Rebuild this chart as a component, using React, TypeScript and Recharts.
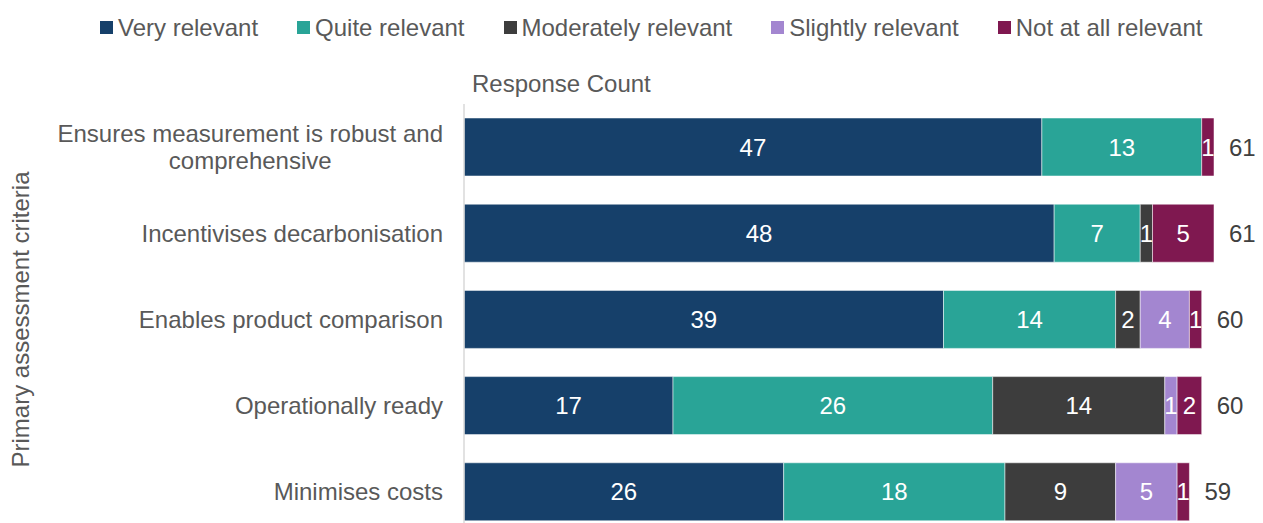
import { Bar, BarChart, LabelList, Legend, XAxis, YAxis } from 'recharts';

const categories = [
  'Ensures measurement is robust and\ncomprehensive',
  'Incentivises decarbonisation',
  'Enables product comparison',
  'Operationally ready',
  'Minimises costs',
];
const seriesNames = [
  'Very relevant',
  'Quite relevant',
  'Moderately relevant',
  'Slightly relevant',
  'Not at all relevant',
];
const veryRelevant = [47, 48, 39, 17, 26];
const quiteRelevant = [13, 7, 14, 26, 18];
const moderatelyRelevant = [0, 1, 2, 14, 9];
const slightlyRelevant = [0, 0, 4, 1, 5];
const notAtAllRelevant = [1, 5, 1, 2, 1];
const xMax = 61;

const COLORS = ['#16406a', '#29a497', '#3d3d3d', '#a386d0', '#7f1850'];
const FONT = "'Liberation Sans', Arial, sans-serif";
const TEXT_GREY = '#595959';

const seriesValues = [veryRelevant, quiteRelevant, moderatelyRelevant, slightlyRelevant, notAtAllRelevant];

const data = categories.map((name, i) => {
  const row: Record<string, string | number> = { name };
  let total = 0;
  seriesValues.forEach((values, s) => {
    row[`s${s}`] = values[i];
    total += values[i];
  });
  row.total = total;
  return row;
});

let measureCtx: CanvasRenderingContext2D | null = null;
function measure(text: string) {
  if (!measureCtx) {
    measureCtx = document.createElement('canvas').getContext('2d');
  }
  if (!measureCtx) return text.length * 12;
  measureCtx.font = `24px ${FONT}`;
  return measureCtx.measureText(text).width;
}

function CategoryTick({ x, y, payload }: any) {
  const lines = String(payload.value).split('\n');
  const widest = Math.max(...lines.map(measure));
  const cx = x - widest / 2;
  return (
    <text textAnchor="middle" fill={TEXT_GREY} fontSize={24} fontFamily={FONT}>
      {lines.map((line, i) => (
        <tspan key={i} x={cx} y={y + (i - (lines.length - 1) / 2) * 27.6 + 8.5}>
          {line}
        </tspan>
      ))}
    </text>
  );
}

function SegmentLabel({ x, y, width, height, value }: any) {
  if (!value) return null;
  return (
    <text
      x={Number(x) + Number(width) / 2}
      y={Number(y) + Number(height) / 2 + 8.5}
      textAnchor="middle"
      fill="#ffffff"
      fontSize={24}
      fontFamily={FONT}
    >
      {value}
    </text>
  );
}

function TotalLabel({ x, y, width, height, value }: any) {
  return (
    <text
      x={Number(x) + Number(width) + 15}
      y={Number(y) + Number(height) / 2 + 8.5}
      fill="#404040"
      fontSize={24}
      fontFamily={FONT}
    >
      {value}
    </text>
  );
}

function AxisTitle({ viewBox }: any) {
  const vb = viewBox || { x: 464, y: 55, width: 750, height: 49 };
  return (
    <text x={vb.x + 8} y={vb.y + vb.height - 12.5} fill={TEXT_GREY} fontSize={24} fontFamily={FONT}>
      Response Count
    </text>
  );
}

function LegendRow() {
  return (
    <div
      style={{
        display: 'flex',
        alignItems: 'center',
        height: 55,
        paddingLeft: 100,
        gap: 39,
        fontFamily: FONT,
        fontSize: 24,
        color: TEXT_GREY,
        whiteSpace: 'nowrap',
      }}
    >
      {seriesNames.map((n, i) => (
        <div key={n} style={{ display: 'flex', alignItems: 'center' }}>
          <span style={{ width: 13, height: 13, background: COLORS[i], marginRight: 5, display: 'inline-block' }} />
          {n}
        </div>
      ))}
    </div>
  );
}

export default function App() {
  return (
    <div style={{ position: 'fixed', left: 0, top: 0, width: 1263, height: 523, overflow: 'hidden', background: '#fff' }}>
      <BarChart
        width={1263}
        height={535}
        data={data}
        layout="vertical"
        margin={{ top: 0, right: 49, bottom: 0, left: 0 }}
      >
        <Legend verticalAlign="top" content={<LegendRow />} wrapperStyle={{ top: 0, left: 0, width: 1263, height: 55 }} />
        <XAxis
          type="number"
          domain={[0, xMax]}
          orientation="top"
          height={49}
          tick={false}
          axisLine={false}
          tickLine={false}
          label={<AxisTitle />}
        />
        <YAxis
          type="category"
          dataKey="name"
          width={464}
          interval={0}
          axisLine={{ stroke: '#d9d9d9', strokeWidth: 1.5 }}
          tickLine={false}
          tickSize={0}
          tickMargin={21}
          tick={<CategoryTick />}
          label={{
            value: 'Primary assessment criteria',
            angle: -90,
            position: 'insideLeft',
            offset: 20,
            style: { textAnchor: 'middle', fill: TEXT_GREY, fontSize: 24, fontFamily: FONT },
          }}
        />
        {seriesNames.map((name, i) => (
          <Bar
            key={name}
            dataKey={`s${i}`}
            name={name}
            stackId="a"
            fill={COLORS[i]}
            stroke="#ffffff"
            strokeOpacity={0.5}
            strokeWidth={1}
            barSize={58}
            isAnimationActive={false}
          >
            <LabelList dataKey={`s${i}`} content={<SegmentLabel />} />
            {i === seriesNames.length - 1 ? <LabelList dataKey="total" content={<TotalLabel />} /> : null}
          </Bar>
        ))}
      </BarChart>
    </div>
  );
}
